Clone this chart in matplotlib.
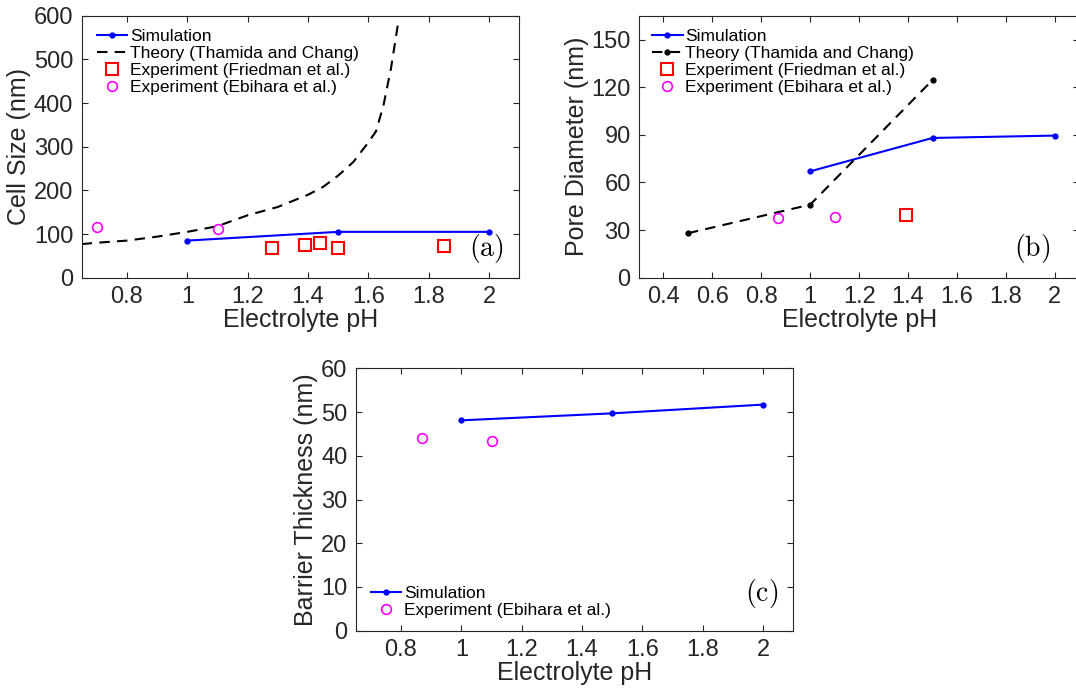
import numpy as np
import matplotlib
matplotlib.use('Agg')
import matplotlib.pyplot as plt

plt.rcParams['font.family'] = ['Liberation Sans', 'DejaVu Sans']
plt.rcParams['mathtext.fontset'] = 'cm'

# ---- panel (a): cell size ----
sim_ph = [1.0, 1.5, 2.0]
sim_cell = [85, 105, 105]
theory_ph_a = [0.65, 0.7, 0.8, 0.9, 1.0, 1.1, 1.2, 1.3, 1.4, 1.45, 1.5, 1.55, 1.6, 1.625, 1.65, 1.675, 1.7]
theory_cell = [77, 80, 85, 94, 105, 118, 143, 162, 190, 208, 234, 265, 310, 335, 395, 480, 590]
fried_ph_a = [1.28, 1.39, 1.44, 1.50, 1.85]
fried_cell = [69, 76, 79, 69, 73]
ebi_ph_a = [0.70, 1.10]
ebi_cell = [115, 111]

# ---- panel (b): pore diameter ----
sim_pore = [67, 88, 89.5]
theory_ph_b = [0.5, 1.0, 1.5]
theory_pore = [28, 46, 124.5]
fried_ph_b = [1.39]
fried_pore = [39.6]
ebi_ph_b = [0.87, 1.10]
ebi_pore = [37.9, 38.5]

# ---- panel (c): barrier thickness ----
sim_barrier = [48.1, 49.7, 51.7]
ebi_ph_c = [0.87, 1.10]
ebi_barrier = [44.0, 43.4]

grey = '#262626'
W, H = 1076, 689


def make_axes(fig, l, t, r, b):
    ax = fig.add_axes([l / W, 1 - b / H, (r - l) / W, (b - t) / H])
    ax.tick_params(direction='in', top=True, right=True, length=4, width=0.8,
                   labelsize=17, colors=grey, pad=6)
    for s in ax.spines.values():
        s.set_color(grey)
        s.set_linewidth(0.8)
    return ax


def style_legend(ax, anchor, loc):
    ax.legend(loc=loc, bbox_to_anchor=anchor, frameon=False, fontsize=12.5,
              handlelength=1.75, handletextpad=0.15, labelspacing=0.1,
              borderaxespad=0, borderpad=0)


fig = plt.figure(figsize=(W / 100, H / 100), dpi=100)

# (a)
ax = make_axes(fig, 81.7, 15.7, 519.3, 277.7)
ax.plot(sim_ph, sim_cell, '-', color='b', marker='.', ms=7, lw=1.5, label='Simulation')
ax.plot(theory_ph_a, theory_cell, '--', color='k', lw=1.5, dashes=(5, 3.5),
        label='Theory (Thamida and Chang)')
ax.plot(fried_ph_a, fried_cell, 's', mfc='none', mec='r', ms=9, mew=1.5, ls='none',
        label='Experiment (Friedman et al.)')
ax.plot(ebi_ph_a, ebi_cell, 'o', mfc='none', mec='magenta', ms=7, mew=1.2, ls='none',
        label='Experiment (Ebihara et al.)')
ax.set_xlim(0.65, 2.1)
ax.set_ylim(0, 600)
ax.set_xticks([0.8, 1, 1.2, 1.4, 1.6, 1.8, 2])
ax.set_xticklabels(['0.8', '1', '1.2', '1.4', '1.6', '1.8', '2'])
ax.set_yticks(range(0, 601, 100))
ax.set_xlabel('Electrolyte pH', fontsize=18, color=grey, labelpad=0)
ax.set_ylabel('Cell Size (nm)', fontsize=18, color=grey, labelpad=2)
ax.text(0.965, 0.05, r'$\mathrm{(a)}$', transform=ax.transAxes, fontsize=20,
        ha='right', va='bottom')
style_legend(ax, (0.035, 0.95), 'upper left')

# (b)
ax = make_axes(fig, 639, 15.7, 1079.3, 277.7)
ax.plot(sim_ph, sim_pore, '-', color='b', marker='.', ms=7, lw=1.5, label='Simulation')
ax.plot(theory_ph_b, theory_pore, '--', color='k', marker='.', ms=7, lw=1.5,
        dashes=(5, 3.5), label='Theory (Thamida and Chang)')
ax.plot(fried_ph_b, fried_pore, 's', mfc='none', mec='r', ms=9, mew=1.5, ls='none',
        label='Experiment (Friedman et al.)')
ax.plot(ebi_ph_b, ebi_pore, 'o', mfc='none', mec='magenta', ms=7, mew=1.2, ls='none',
        label='Experiment (Ebihara et al.)')
ax.set_xlim(0.3, 2.1)
ax.set_ylim(0, 165)
ax.set_xticks([0.4, 0.6, 0.8, 1, 1.2, 1.4, 1.6, 1.8, 2])
ax.set_xticklabels(['0.4', '0.6', '0.8', '1', '1.2', '1.4', '1.6', '1.8', '2'])
ax.set_yticks(range(0, 151, 30))
ax.set_xlabel('Electrolyte pH', fontsize=18, color=grey, labelpad=0)
ax.set_ylabel('Pore Diameter (nm)', fontsize=18, color=grey, labelpad=2)
ax.text(0.935, 0.05, r'$\mathrm{(b)}$', transform=ax.transAxes, fontsize=20,
        ha='right', va='bottom')
style_legend(ax, (0.03, 0.95), 'upper left')

# (c)
ax = make_axes(fig, 355.7, 368.3, 793.3, 630.7)
ax.plot(sim_ph, sim_barrier, '-', color='b', marker='.', ms=7, lw=1.5, label='Simulation')
ax.plot(ebi_ph_c, ebi_barrier, 'o', mfc='none', mec='magenta', ms=7, mew=1.2, ls='none',
        label='Experiment (Ebihara et al.)')
ax.set_xlim(0.65, 2.1)
ax.set_ylim(0, 60)
ax.set_xticks([0.8, 1, 1.2, 1.4, 1.6, 1.8, 2])
ax.set_xticklabels(['0.8', '1', '1.2', '1.4', '1.6', '1.8', '2'])
ax.set_yticks(range(0, 61, 10))
ax.set_xlabel('Electrolyte pH', fontsize=18, color=grey, labelpad=0)
ax.set_ylabel('Barrier Thickness (nm)', fontsize=18, color=grey, labelpad=2)
ax.text(0.965, 0.08, r'$\mathrm{(c)}$', transform=ax.transAxes, fontsize=20,
        ha='right', va='bottom')
style_legend(ax, (0.035, 0.05), 'lower left')

fig.savefig('out.png', dpi=100)
